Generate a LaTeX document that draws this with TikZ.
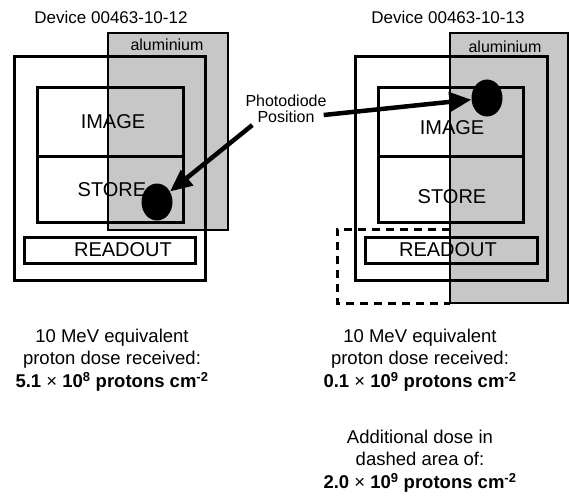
\documentclass[tikz,border=0pt]{standalone}
\usepackage{fontspec}
\setmainfont{Liberation Sans}
\usetikzlibrary{arrows.meta,shapes.geometric}

\begin{document}
\begin{tikzpicture}[x=1pt,y=-1pt,
   alu/.style={draw,line width=2.6pt,fill=black!22},
   frame/.style={draw,line width=3pt},
   dashbox/.style={line width=3pt,dash pattern=on 8pt off 6pt},
   lbl/.style={font=\fontsize{20}{22}\selectfont,inner sep=0pt},
   title/.style={font=\fontsize{17}{22}\selectfont,inner sep=0pt},
   note/.style={font=\fontsize{16}{16}\selectfont,align=center,inner sep=0pt},
   dose/.style={font=\fontsize{18.5}{22.5}\selectfont,align=center,inner sep=0pt},
   dot/.style={ellipse,fill=black,minimum width=31pt,minimum height=37pt,inner sep=0pt},
   arr/.style={-{Triangle[length=22pt,width=19pt]},line width=4.5pt}
  ]
  \useasboundingbox (0,0) rectangle (569,500);

  % left device
  \node[title] (titleL) at (111,17) {Device 00463-10-12};
  \draw[alu] (108,33) rectangle (228,230);
  \node[note] (aluL) at (167,45) {aluminium};
  \draw[frame] (14,57) rectangle (205,280);
  \draw[frame] (37,88) rectangle (183,222);
  \draw[frame] (37,156) -- (183,156);
  \draw[frame] (24,237) rectangle (195,263);
  \node[lbl] (imgL) at (113,122) {IMAGE};
  \node[lbl] (stoL) at (112,190) {STORE};
  \node[lbl] (rdL)  at (123,250) {READOUT};
  \node[dot] (dotL) at (157,202) {};

  % right device
  \node[title] (titleR) at (448,17) {Device 00463-10-13};
  \draw[alu] (450,33) rectangle (568,303);
  \node[note] (aluR) at (505,47) {aluminium};
  \draw[frame] (355,57) rectangle (547,280);
  \draw[frame] (378,88) rectangle (523,222);
  \draw[frame] (378,156) -- (523,156);
  \draw[frame] (365,237) rectangle (537,263);
  \draw[dashbox] (450,229) -- (337,229) -- (337,303) -- (450,303);
  \node[lbl] (imgR) at (452,128) {IMAGE};
  \node[lbl] (stoR) at (452,197) {STORE};
  \node[lbl] (rdR)  at (448,250) {READOUT};
  \node[dot] (dotR) at (487,98) {};

  % photodiode pointers
  \node[note] (pd) at (286,109) {Photodiode\\Position};
  \draw[arr] ([xshift=7pt,yshift=-2pt]pd.south west) -- (dotL);
  \draw[arr] ([xshift=-3pt,yshift=-6pt]pd.east) -- (dotR);

  % doses
  \node[dose] (doseL) at (112,360) {10 MeV equivalent\\proton dose received:\\
        \textbf{5.1 {\mdseries×} 10\textsuperscript{8} protons cm\textsuperscript{-2}}};
  \node[dose] (doseR) at (420,360) {10 MeV equivalent\\proton dose received:\\
        \textbf{0.1 {\mdseries×} 10\textsuperscript{9} protons cm\textsuperscript{-2}}};
  \node[dose] (addR) at (420,461) {Additional dose in\\dashed area of:\\
        \textbf{2.0 {\mdseries×} 10\textsuperscript{9} protons cm\textsuperscript{-2}}};
\end{tikzpicture}
\end{document}
